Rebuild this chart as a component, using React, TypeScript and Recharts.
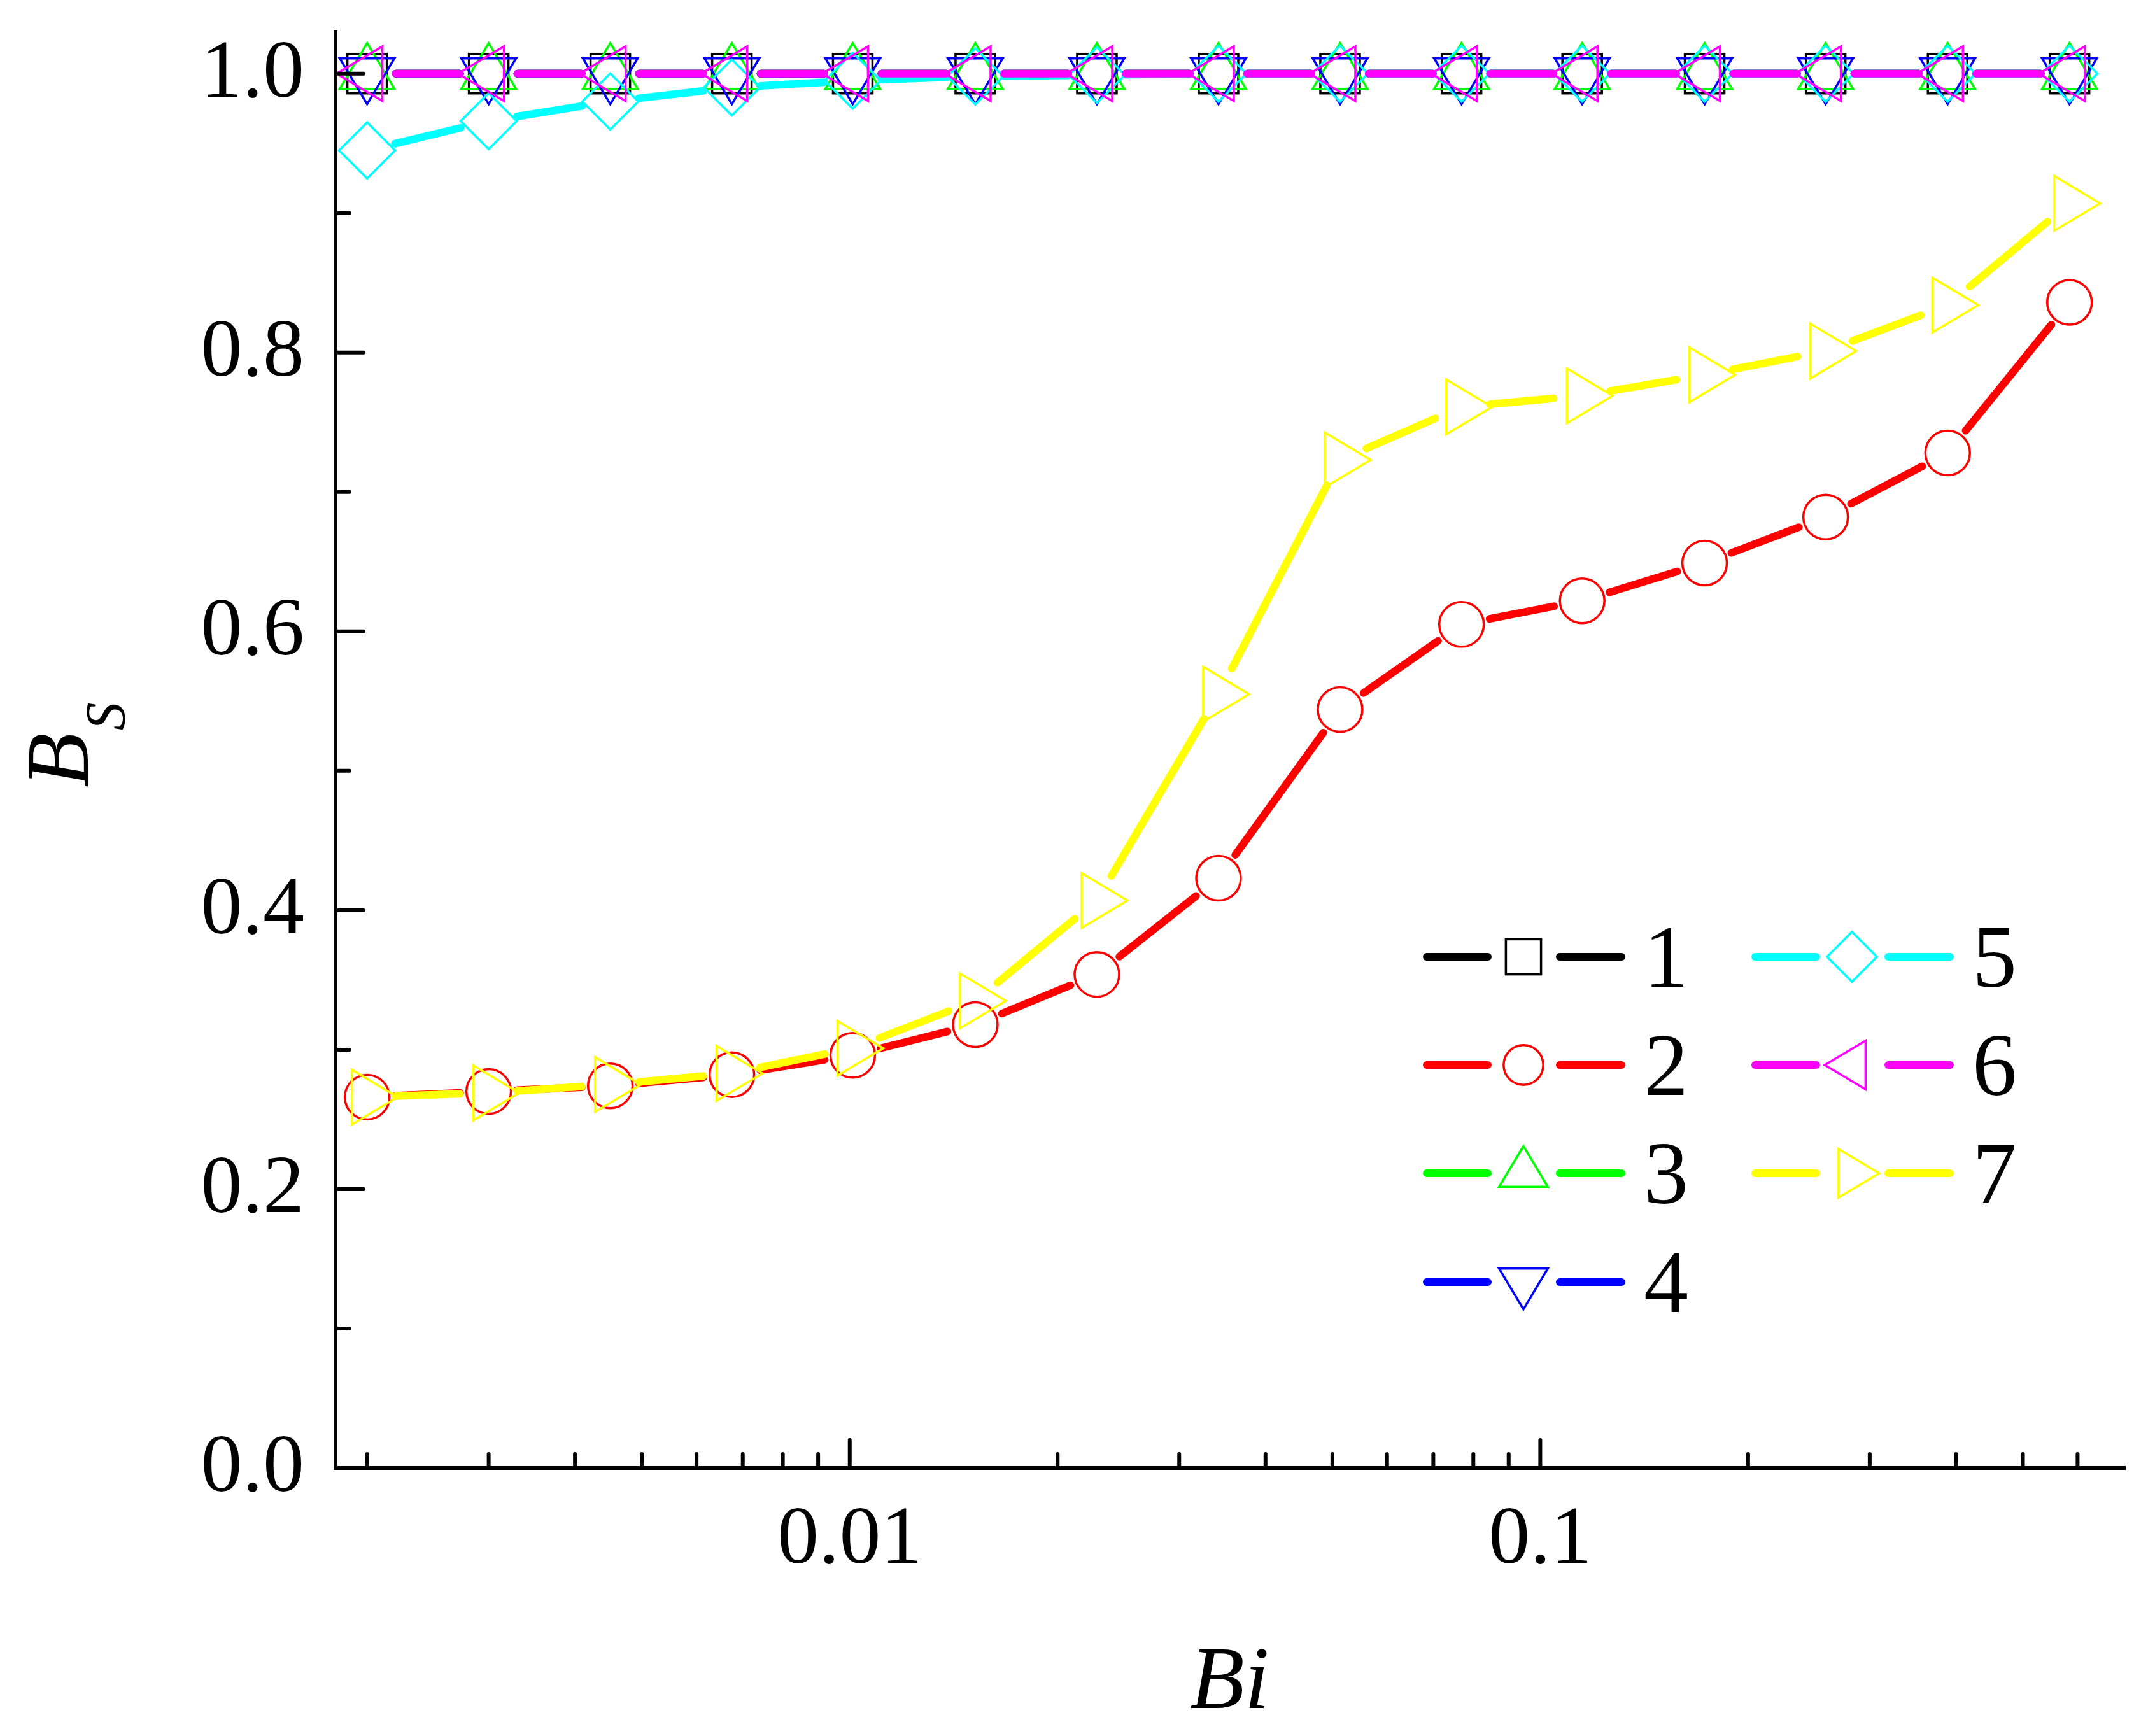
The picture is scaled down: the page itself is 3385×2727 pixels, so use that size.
import React from "react";
import { Legend, Line, LineChart, XAxis, YAxis } from "recharts";

// Bi values (log axis)
const BI = [
  0.002, 0.003, 0.0045, 0.00675, 0.0101, 0.0152, 0.0228, 0.0342, 0.0513,
  0.0769, 0.115, 0.173, 0.259, 0.389, 0.584,
];

const S1 = [1, 1, 1, 1, 1, 1, 1, 1, 1, 1, 1, 1, 1, 1, 1];
const S2 = [
  0.266, 0.27, 0.274, 0.282, 0.296, 0.318, 0.354, 0.423, 0.544, 0.605, 0.622,
  0.649, 0.682, 0.728, 0.836,
];
const S3 = [1, 1, 1, 1, 1, 1, 1, 1, 1, 1, 1, 1, 1, 1, 1];
const S4 = [1, 1, 1, 1, 1, 1, 1, 1, 1, 1, 1, 1, 1, 1, 1];
const S5 = [
  0.945, 0.966, 0.98, 0.99, 0.995, 0.998, 0.999, 1, 1, 1, 1, 1, 1, 1, 1,
];
const S6 = [1, 1, 1, 1, 1, 1, 1, 1, 1, 1, 1, 1, 1, 1, 1];
const S7 = [
  0.266, 0.269, 0.275, 0.283, 0.301, 0.335, 0.407, 0.555, 0.723, 0.761, 0.769,
  0.784, 0.801, 0.834, 0.907,
];

const X_TICKS = [
  0.002, 0.003, 0.004, 0.005, 0.006, 0.007, 0.008, 0.009, 0.01, 0.02, 0.03,
  0.04, 0.05, 0.06, 0.07, 0.08, 0.09, 0.1, 0.2, 0.3, 0.4, 0.5, 0.6,
];
const X_LABELS = [0.01, 0.1];
const Y_TICKS = [0, 0.1, 0.2, 0.3, 0.4, 0.5, 0.6, 0.7, 0.8, 0.9, 1.0];

const SERIES = [
  { key: "s1", name: "1", color: "#000000", shape: "square", values: S1 },
  { key: "s2", name: "2", color: "#FF0000", shape: "circle", values: S2 },
  { key: "s3", name: "3", color: "#00FF00", shape: "up", values: S3 },
  { key: "s4", name: "4", color: "#0000FF", shape: "down", values: S4 },
  { key: "s5", name: "5", color: "#00FFFF", shape: "diamond", values: S5 },
  { key: "s6", name: "6", color: "#FF00FF", shape: "left", values: S6 },
  { key: "s7", name: "7", color: "#FFFF00", shape: "right", values: S7 },
];

const DATA = BI.map((bi, i) => {
  const row: Record<string, number> = { bi };
  SERIES.forEach((s) => (row[s.key] = s.values[i]));
  return row;
});

const FONT = "Liberation Serif, Times New Roman, serif";
const AXIS_LINE = { stroke: "#000", strokeWidth: 6, strokeLinecap: "square" };
const MAJOR = 44;
const MINOR = 22;
const LINE_W = 12;
const GAP = 45;

function Marker({ shape, cx, cy, k, color }: any) {
  const p = { fill: "none", stroke: color, strokeWidth: 3.5 };
  const t = (pts: number[][]) => pts.map((q) => q.join(",")).join(" ");
  switch (shape) {
    case "square":
      return <rect x={cx - 31 * k} y={cy - 31 * k} width={62 * k} height={62 * k} {...p} />;
    case "circle":
      return <circle cx={cx} cy={cy} r={35 * k} {...p} />;
    case "up":
      return <polygon points={t([[cx, cy - 48 * k], [cx + 43 * k, cy + 24 * k], [cx - 43 * k, cy + 24 * k]])} {...p} />;
    case "down":
      return <polygon points={t([[cx, cy + 48 * k], [cx + 43 * k, cy - 24 * k], [cx - 43 * k, cy - 24 * k]])} {...p} />;
    case "left":
      return <polygon points={t([[cx - 48 * k, cy], [cx + 24 * k, cy - 43 * k], [cx + 24 * k, cy + 43 * k]])} {...p} />;
    case "right":
      return <polygon points={t([[cx + 48 * k, cy], [cx - 24 * k, cy - 43 * k], [cx - 24 * k, cy + 43 * k]])} {...p} />;
    default:
      return <polygon points={t([[cx, cy - 44 * k], [cx + 44 * k, cy], [cx, cy + 44 * k], [cx - 44 * k, cy]])} {...p} />;
  }
}

// dot renderer: draws the gapped segment to the next point plus the hollow marker
function makeDot(s: any) {
  return (props: any) => {
    const { cx, cy, index, points } = props;
    const next = points ? points[index + 1] : null;
    let seg = null;
    if (next) {
      const dx = next.x - cx;
      const dy = next.y - cy;
      const len = Math.hypot(dx, dy);
      if (len > 2 * GAP) {
        const ux = dx / len;
        const uy = dy / len;
        seg = (
          <line
            x1={cx + ux * GAP}
            y1={cy + uy * GAP}
            x2={next.x - ux * GAP}
            y2={next.y - uy * GAP}
            stroke={s.color}
            strokeWidth={LINE_W}
            strokeLinecap="round"
          />
        );
      }
    }
    return (
      <g key={`${s.key}-${index}`}>
        {seg}
        <Marker shape={s.shape} cx={cx} cy={cy} k={1} color={s.color} />
      </g>
    );
  };
}

function BottomTick({ x, y, payload }: any) {
  const v = payload.value;
  const major = X_LABELS.includes(v);
  return (
    <g>
      <line x1={x} x2={x} y1={y} y2={y - (major ? MAJOR : MINOR)} stroke="#000" strokeWidth={6} strokeLinecap="round" />
      {major && (
        <text x={x} y={y + 149} textAnchor="middle" fontFamily={FONT} fontSize={130} fill="#000">
          {String(v)}
        </text>
      )}
    </g>
  );
}

function TopTick({ x, y, payload }: any) {
  const major = X_LABELS.includes(payload.value);
  return <line x1={x} x2={x} y1={y} y2={y + (major ? MAJOR : MINOR)} stroke="#000" strokeWidth={6} strokeLinecap="round" />;
}

function LeftTick({ x, y, payload }: any) {
  const v = payload.value;
  const major = Math.round(v * 10) % 2 === 0;
  return (
    <g>
      <line x1={x} x2={x + (major ? MAJOR : MINOR)} y1={y} y2={y} stroke="#000" strokeWidth={6} strokeLinecap="round" />
      {major && (
        <text x={x - 49} y={y + 36} textAnchor="end" fontFamily={FONT} fontSize={130} fill="#000">
          {v.toFixed(1)}
        </text>
      )}
    </g>
  );
}

function RightTick({ x, y, payload }: any) {
  const major = Math.round(payload.value * 10) % 2 === 0;
  return <line x1={x} x2={x - (major ? MAJOR : MINOR)} y1={y} y2={y} stroke="#000" strokeWidth={6} strokeLinecap="round" />;
}

// legend: two columns, 4 + 3 rows
const LEG_COLS = [193, 709];
const LEG_ROWS = [103, 273, 443, 614];

function LegendBox() {
  return (
    <svg width={1100} height={720} style={{ overflow: "visible" }}>
      {SERIES.map((s, i) => {
        const cx = LEG_COLS[i < 4 ? 0 : 1];
        const cy = LEG_ROWS[i < 4 ? i : i - 4];
        return (
          <g key={s.key}>
            <line x1={cx - 152} x2={cx - 56} y1={cy} y2={cy} stroke={s.color} strokeWidth={12} strokeLinecap="round" />
            <line x1={cx + 57} x2={cx + 154} y1={cy} y2={cy} stroke={s.color} strokeWidth={12} strokeLinecap="round" />
            <Marker shape={s.shape} cx={cx} cy={cy} k={0.89} color={s.color} />
            <text x={cx + 189} y={cy + 47} fontFamily={FONT} fontSize={140} fill="#000">
              {s.name}
            </text>
          </g>
        );
      })}
    </svg>
  );
}

export default function App() {
  return (
    <div style={{ position: "absolute", left: 0, top: 0, width: 3385, height: 2727, background: "#fff", fontFamily: FONT }}>
      <LineChart width={3385} height={2727} data={DATA} margin={{ top: 50, right: 49, left: 327, bottom: 221 }}>
        <XAxis
          dataKey="bi"
          type="number"
          scale="log"
          domain={[0.0018, 0.7]}
          allowDataOverflow
          ticks={X_TICKS}
          interval={0}
          tickSize={0}
          tickMargin={0}
          tickLine={false}
          tick={<BottomTick />}
          axisLine={AXIS_LINE}
          height={200}
          label={{
            content: ({ viewBox }: any) => (
              <text
                x={viewBox.x + viewBox.width / 2}
                y={viewBox.y + 377}
                textAnchor="middle"
                fontFamily={FONT}
                fontStyle="italic"
                fontSize={140}
                fill="#000"
              >
                Bi
              </text>
            ),
          }}
        />
        <XAxis
          xAxisId="top"
          orientation="top"
          mirror
          dataKey="bi"
          type="number"
          scale="log"
          domain={[0.0018, 0.7]}
          allowDataOverflow
          ticks={X_TICKS}
          interval={0}
          tickSize={0}
          tickMargin={0}
          tickLine={false}
          tick={<TopTick />}
          axisLine={AXIS_LINE}
          height={0}
        />
        <YAxis
          type="number"
          domain={[0, 1.03]}
          allowDataOverflow
          ticks={Y_TICKS}
          interval={0}
          tickSize={0}
          tickMargin={0}
          tickLine={false}
          tick={<LeftTick />}
          axisLine={AXIS_LINE}
          width={200}
          label={{
            content: ({ viewBox }: any) => {
              const x = viewBox.x - 189;
              const y = viewBox.y + viewBox.height / 2 - 8;
              return (
                <text
                  x={x}
                  y={y}
                  transform={`rotate(-90, ${x}, ${y})`}
                  textAnchor="middle"
                  fontFamily={FONT}
                  fontStyle="italic"
                  fontSize={140}
                  fill="#000"
                >
                  <tspan>B</tspan>
                  <tspan fontSize={88} dx={4} dy={57}>
                    S
                  </tspan>
                </text>
              );
            },
          }}
        />
        <YAxis
          yAxisId="right"
          orientation="right"
          mirror
          type="number"
          domain={[0, 1.03]}
          allowDataOverflow
          ticks={Y_TICKS}
          interval={0}
          tickSize={0}
          tickMargin={0}
          tickLine={false}
          tick={<RightTick />}
          axisLine={AXIS_LINE}
          width={0}
        />
        <Legend
          layout="horizontal"
          verticalAlign="middle"
          align="center"
          content={() => <LegendBox />}
          wrapperStyle={{ position: "absolute", left: 2200, top: 1400, width: 1100, height: 720, margin: 0 }}
        />
        {SERIES.map((s) => (
          <Line
            key={s.key}
            dataKey={s.key}
            name={s.name}
            stroke="none"
            strokeWidth={0}
            dot={makeDot(s)}
            activeDot={false}
            isAnimationActive={false}
          />
        ))}
      </LineChart>
    </div>
  );
}
